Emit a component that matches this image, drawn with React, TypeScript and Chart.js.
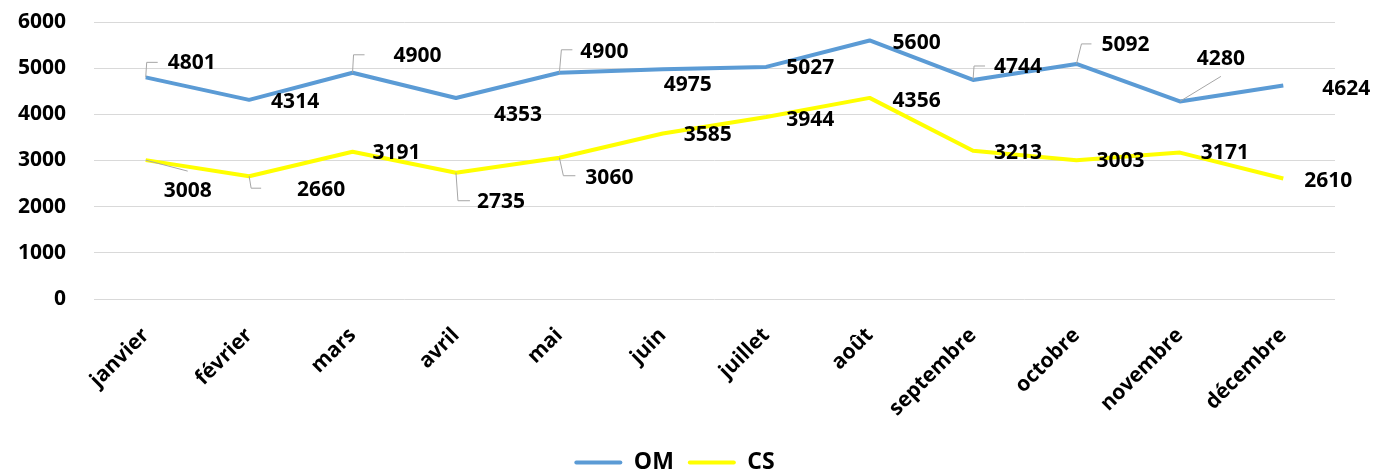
import React, { useEffect, useRef } from "react";
import { Chart, registerables } from "chart.js";

Chart.register(...registerables);

const months = ["janvier", "février", "mars", "avril", "mai", "juin", "juillet", "août", "septembre", "octobre", "novembre", "décembre"];
const omValues = [4801, 4314, 4900, 4353, 4900, 4975, 5027, 5600, 4744, 5092, 4280, 4624];
const csValues = [3008, 2660, 3191, 2735, 3060, 3585, 3944, 4356, 3213, 3003, 3171, 2610];
const yTicks = [0, 1000, 2000, 3000, 4000, 5000, 6000];

// data-label placement (pixel offsets of the label centre from its point)
const omLabelOffsets = [[46, -14], [46, 2], [65, -17], [62, 17], [45, -21], [25, 16], [44, 1], [47, 3], [45, -13], [49, -19], [41, -42], [63, 3]];
const csLabelOffsets = [[42, 31], [72, 14], [44, 1], [45, 29], [50, 20], [45, 2], [44, 3], [47, 3], [45, 2], [44, 1], [45, 0], [45, 3]];
// leader lines: [elbowDx, elbowDy, endDx] relative to the point
const omLeaders = [[1, -15, 12], null, [1, -18, 12], null, [2, -23, 13], null, null, null, [1, -14, 12], [5, -20, 15], [41, -25, 41], null];
const csLeaders = [[42, 11, 42], [2, 12, 12], null, [2, 28, 14], [4, 18, 16], null, null, null, null, null, null, null];

const FONT = "'Open Sans', 'Noto Sans', sans-serif";
const FS = 21;
const LEGEND_FS = 23;

const labelPlugin = {
  id: "pointLabels",
  afterDatasetsDraw(chart: any) {
    const ctx = chart.ctx;
    const sets = [
      { offs: omLabelOffsets, leads: omLeaders },
      { offs: csLabelOffsets, leads: csLeaders },
    ];
    chart.data.datasets.forEach((ds: any, di: number) => {
      const meta = chart.getDatasetMeta(di);
      const cfg = sets[di];
      meta.data.forEach((pt: any, i: number) => {
        const x = pt.x;
        const y = pt.y;
        const ld = cfg.leads[i];
        ctx.save();
        if (ld) {
          ctx.strokeStyle = "#a6a6a6";
          ctx.lineWidth = 1;
          ctx.beginPath();
          ctx.moveTo(x, y);
          ctx.lineTo(x + ld[0], y + ld[1]);
          ctx.lineTo(x + ld[2], y + ld[1]);
          ctx.stroke();
        }
        const o = cfg.offs[i];
        ctx.fillStyle = "#000";
        ctx.font = `bold ${FS}px ${FONT}`;
        ctx.textAlign = "center";
        ctx.textBaseline = "middle";
        ctx.fillText(String(ds.data[i]), x + o[0], y + o[1]);
        ctx.restore();
      });
    });
  },
};

export default function App() {
  const ref = useRef<HTMLCanvasElement | null>(null);
  useEffect(() => {
    document.body.style.margin = "0";
    const canvas = ref.current!;
    const chart = new Chart(canvas, {
      type: "line",
      data: {
        labels: months,
        datasets: [
          {
            label: "OM",
            data: omValues,
            borderColor: "#5B9BD5",
            backgroundColor: "#5B9BD5",
            borderWidth: 4,
            pointRadius: 0,
            tension: 0,
            borderJoinStyle: "round",
          },
          {
            label: "CS",
            data: csValues,
            borderColor: "#FFFF00",
            backgroundColor: "#FFFF00",
            borderWidth: 4,
            pointRadius: 0,
            tension: 0,
            borderJoinStyle: "round",
          },
        ],
      },
      options: {
        responsive: false,
        animation: false,
        layout: { padding: { top: 22, right: 40, left: 14, bottom: -12 } },
        plugins: {
          tooltip: { enabled: false },
          legend: {
            position: "bottom",
            labels: {
              boxWidth: 48,
              boxHeight: 4,
              padding: 14,
              color: "#000",
              font: { family: FONT, size: LEGEND_FS, weight: "bold" },
              generateLabels(chart: any) {
                return chart.data.datasets.map((ds: any, i: number) => ({
                  text: ds.label,
                  fillStyle: ds.borderColor,
                  strokeStyle: ds.borderColor,
                  lineWidth: 0,
                  fontColor: "#000",
                  datasetIndex: i,
                  hidden: false,
                  borderRadius: 2,
                }));
              },
            },
          },
        },
        scales: {
          x: {
            offset: true,
            grid: { display: false, drawTicks: false },
            border: { display: false },
            ticks: {
              color: "#000",
              font: { family: FONT, size: FS, weight: "bold" },
              maxRotation: 45,
              minRotation: 45,
              padding: 24,
              autoSkip: false,
            },
            afterFit(scale: any) {
              scale.height = 138;
            },
          },
          y: {
            min: 0,
            max: 6000,
            grid: { color: "#d9d9d9", lineWidth: 1, drawTicks: false },
            border: { display: false },
            afterBuildTicks(scale: any) {
              scale.ticks = yTicks.map((v) => ({ value: v }));
            },
            ticks: {
              color: "#000",
              font: { family: FONT, size: FS, weight: "bold" },
              padding: 28,
              callback: (v: any) => String(v),
            },
            afterFit(scale: any) {
              scale.width = 80;
              scale.paddingTop = 12;
              scale.paddingBottom = 12;
            },
          },
        },
      },
      plugins: [labelPlugin],
    });
    return () => chart.destroy();
  }, []);
  return (
    <div style={{ width: 1375, height: 472 }}>
      <canvas ref={ref} width={1375} height={472} />
    </div>
  );
}
